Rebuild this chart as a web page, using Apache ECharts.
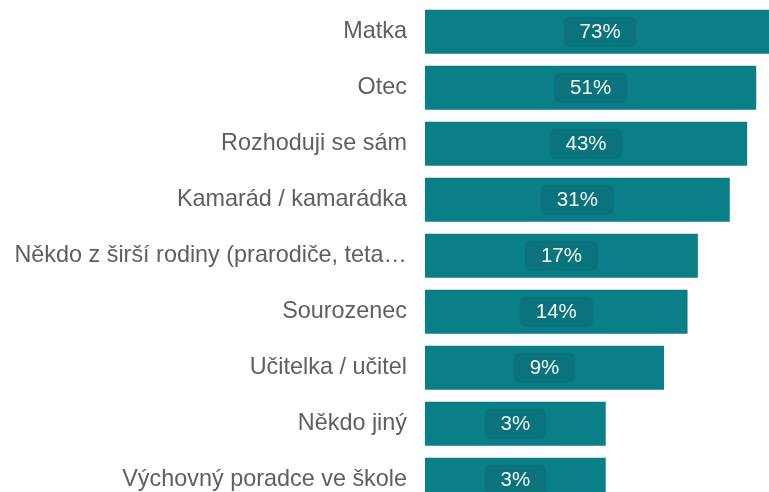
<!DOCTYPE html>
<html>
<head>
<meta charset="utf-8">
<script src="https://cdn.jsdelivr.net/npm/echarts@6/dist/echarts.min.js"></script>
<style>
  html, body { margin: 0; padding: 0; background: #ffffff; }
  #chart { width: 769px; height: 492px; }
</style>
</head>
<body>
<div id="chart"></div>
<script>
// Answer categories, top to bottom
const categories = [
  'Matka',
  'Otec',
  'Rozhoduji se sám',
  'Kamarád / kamarádka',
  'Někdo z širší rodiny (prarodiče, teta…',
  'Sourozenec',
  'Učitelka / učitel',
  'Někdo jiný',
  'Výchovný poradce ve škole'
];

// Share of respondents, in percent
const shares = [73, 51, 43, 31, 17, 14, 9, 3, 3];

const chart = echarts.init(document.getElementById('chart'), null, { renderer: 'canvas' });

chart.setOption({
  animation: false,
  backgroundColor: '#ffffff',
  grid: {
    left: 425,
    width: 367,
    top: 3.85,
    height: 504,
    containLabel: false,
    outerBoundsMode: 'none'
  },
  xAxis: {
    type: 'log',
    logBase: 10,
    min: 0.1,
    max: 100,
    startValue: 0.1,
    show: false
  },
  yAxis: {
    type: 'category',
    data: categories,
    inverse: true,
    axisLine: { show: false },
    axisTick: { show: false },
    splitLine: { show: false },
    axisLabel: {
      color: '#5f5f5f',
      fontFamily: '"Liberation Sans", Arial, sans-serif',
      fontSize: 23.4,
      margin: 18
    }
  },
  series: [{
    type: 'bar',
    data: shares,
    barWidth: 44,
    itemStyle: { color: '#0a7f88' },
    label: {
      show: true,
      position: 'inside',
      formatter: '{c}%',
      color: '#f2f8f8',
      fontFamily: '"Liberation Sans", Arial, sans-serif',
      fontSize: 20.5,
      backgroundColor: '#0a737b',
      borderRadius: 6,
      padding: [5, 16, 4, 16]
    }
  }]
});
</script>
</body>
</html>
